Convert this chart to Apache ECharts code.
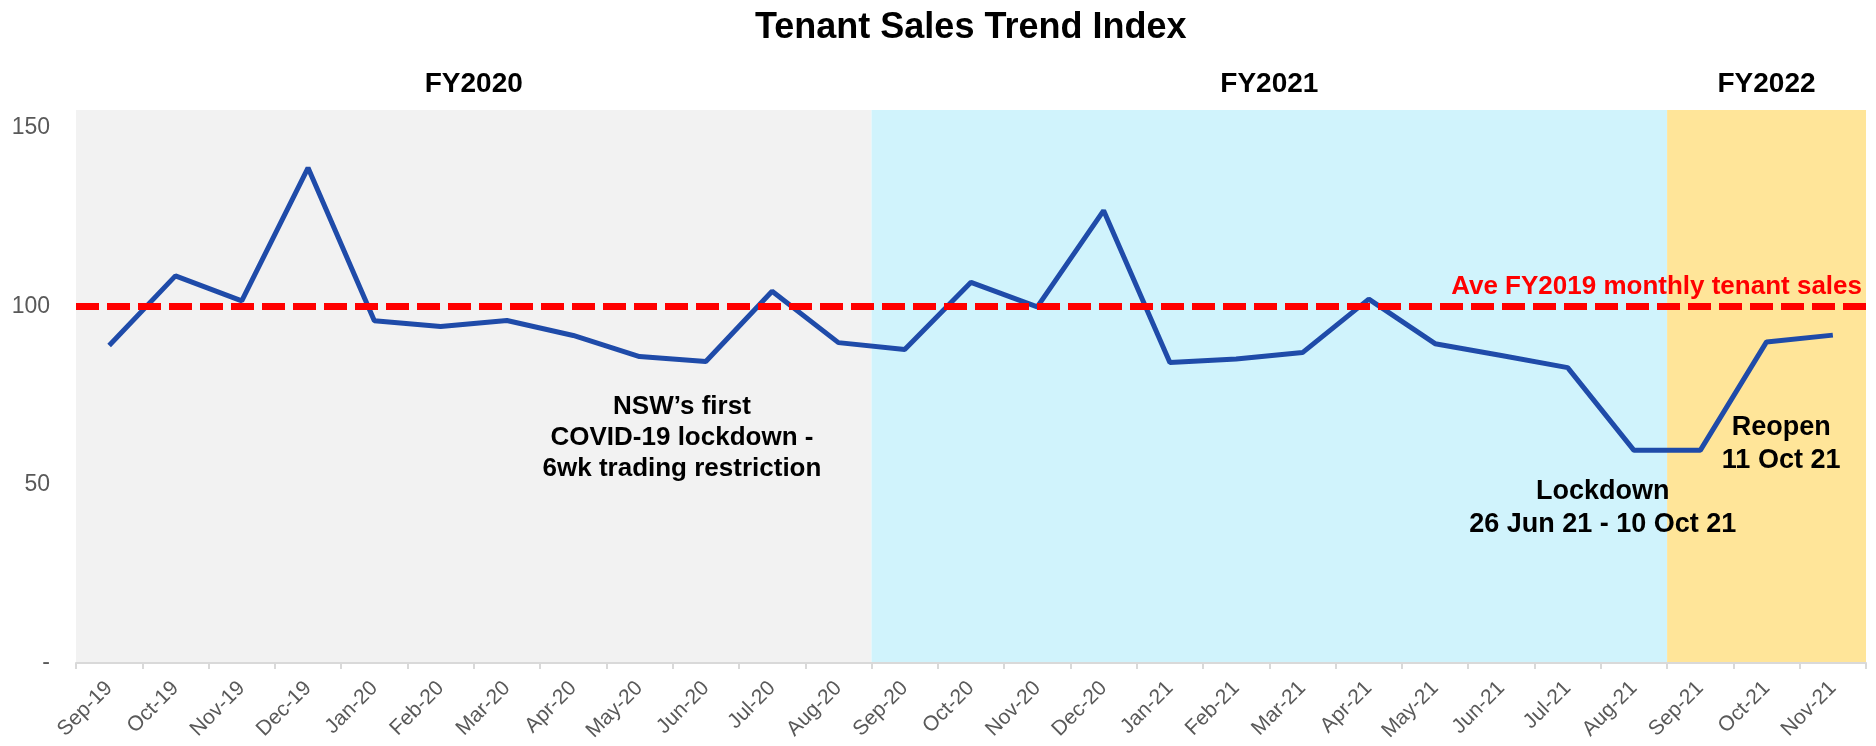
<!DOCTYPE html>
<html>
<head>
<meta charset="utf-8">
<script src="https://cdn.jsdelivr.net/npm/echarts@6/dist/echarts.min.js"></script>
<style>
html,body{margin:0;padding:0;background:#fff;}
#chart{width:1876px;height:746px;}
</style>
</head>
<body>
<div id="chart"></div>
<script>
const months = ['Sep-19','Oct-19','Nov-19','Dec-19','Jan-20','Feb-20','Mar-20','Apr-20','May-20','Jun-20','Jul-20','Aug-20',
  'Sep-20','Oct-20','Nov-20','Dec-20','Jan-21','Feb-21','Mar-21','Apr-21','May-21','Jun-21','Jul-21','Aug-21',
  'Sep-21','Oct-21','Nov-21'];
const salesIndex = [89.0,108.5,101.5,138.8,95.9,94.3,96.0,91.8,85.9,84.5,104.2,89.8,
  87.9,106.7,99.8,126.8,84.2,85.2,87.0,102.0,89.5,86.2,82.8,59.6,
  59.6,90.0,91.9];
const averageFY2019 = 100;
const averageLabel = 'Ave FY2019 monthly tenant sales';
const fiscalYears = ['FY2020','FY2021','FY2022'];
const fiscalStart = [0,12,24];
const fiscalEnd = [12,24,27];
const fiscalColors = ['#f2f2f2','#d0f3fc','#ffe599'];
const yTicks = [0,50,100,150];
const notes = [
  {text:'NSW\u2019s first\nCOVID-19 lockdown -\n6wk trading restriction', x:9.14, y:63.2, size:26, lh:31},
  {text:'Lockdown\n26 Jun 21 - 10 Oct 21', x:23.03, y:43.3, size:27, lh:33},
  {text:'Reopen\n11 Oct 21', x:25.72, y:61.4, size:27, lh:33}
];

const FONT = '"Liberation Sans", Arial, sans-serif';
const chart = echarts.init(document.getElementById('chart'));

const areaData = fiscalYears.map((name,i)=>[
  {name:name, xAxis:fiscalStart[i], itemStyle:{color:fiscalColors[i]}},
  {xAxis:fiscalEnd[i]}
]);

chart.setOption({
  animation:false,
  backgroundColor:'#ffffff',
  graphic:[{
    type:'text', left:755, top:10,
    style:{text:'Tenant Sales Trend Index', font:'bold 36px '+FONT, fill:'#000'}
  }],
  grid:{left:76,right:10,top:110,bottom:83,containLabel:false},
  xAxis:[{
    type:'category', data:months, boundaryGap:true,
    axisLine:{lineStyle:{color:'#d9d9d9',width:2}},
    axisTick:{show:true,length:6,lineStyle:{color:'#d9d9d9',width:2}},
    axisLabel:{rotate:45,fontSize:21,color:'#595959',fontFamily:FONT,margin:22,interval:0},
    splitLine:{show:false}, z:5
  },{
    type:'value', min:0, max:months.length, show:false
  }],
  yAxis:{
    type:'value', min:0, max:155, interval:50,
    axisLine:{show:false}, axisTick:{show:false}, splitLine:{show:false},
    axisLabel:{fontSize:23,color:'#595959',fontFamily:FONT,margin:26,
      formatter:v=> yTicks.indexOf(v)<0 ? '' : (v===0 ? '-' : String(v))}
  },
  series:[{
    type:'line', xAxisIndex:1, data:[], silent:true, z:1,
    markArea:{silent:true, data:areaData,
      label:{show:true, position:'top', distance:12, fontSize:28, fontWeight:'bold', color:'#000', fontFamily:FONT}}
  },{
    type:'line', name:'Index', data:salesIndex, symbol:'none', z:3,
    lineStyle:{color:'#1f4ba9',width:5}, itemStyle:{color:'#1f4ba9'}
  },{
    type:'line', xAxisIndex:1, data:[], silent:true, z:4,
    markLine:{silent:true, symbol:['none','none'],
      lineStyle:{color:'#ff0000',width:7,type:[23,8]},
      label:{show:true, position:'insideEndTop', formatter:averageLabel, color:'#ff0000',
        fontSize:26, fontWeight:'bold', fontFamily:FONT, distance:[4,6]},
      data:[{yAxis:averageFY2019}]},
    markPoint:{silent:true, symbol:'rect', symbolSize:1, itemStyle:{color:'transparent'},
      data:notes.map(n=>({coord:[n.x,n.y], value:0,
        label:{show:true, position:'inside', formatter:n.text, color:'#000', fontSize:n.size,
          lineHeight:n.lh, fontWeight:'bold', fontFamily:FONT, align:'center'}}))}
  }]
});
</script>
</body>
</html>
